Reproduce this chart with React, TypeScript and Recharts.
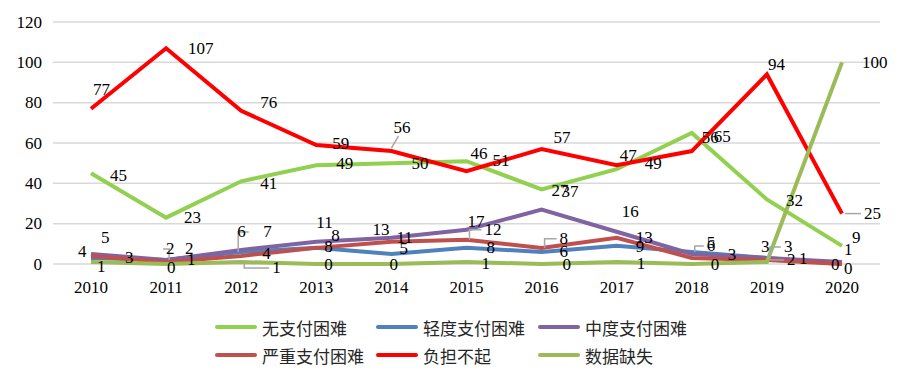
import React from 'react';
import { LineChart, Line, XAxis, YAxis, CartesianGrid, Legend, LabelList } from 'recharts';

const years = ['2010', '2011', '2012', '2013', '2014', '2015', '2016', '2017', '2018', '2019', '2020'];

const noDifficulty = [45, 23, 41, 49, 50, 51, 37, 47, 65, 32, 9];
const mildDifficulty = [3, 2, 6, 8, 5, 8, 6, 9, 6, 3, 0];
const moderateDifficulty = [5, 2, 7, 11, 13, 17, 27, 16, 5, 3, 1];
const severeDifficulty = [4, 1, 4, 8, 11, 12, 8, 13, 3, 2, 0];
const cannotAfford = [77, 107, 76, 59, 56, 46, 57, 49, 56, 94, 25];
const missingData = [1, 0, 1, 0, 0, 1, 0, 1, 0, 1, 100];

const yTicks = [0, 20, 40, 60, 80, 100, 120];

const data = years.map((year, i) => ({
  year,
  noDifficulty: noDifficulty[i],
  mildDifficulty: mildDifficulty[i],
  moderateDifficulty: moderateDifficulty[i],
  severeDifficulty: severeDifficulty[i],
  cannotAfford: cannotAfford[i],
  missingData: missingData[i],
}));

// label offsets [dx, dy, leader] from each point, per year, following the original placement
const series = [
  {
    key: 'noDifficulty', name: '无支付困难', color: '#92D050',
    offsets: [[19, 2], [18, 0], [19, 2], [20, -2], [20, 0], [26, -1], [20, 2], [3, -14], [22, 4], [19, 1], [10, -8]],
  },
  {
    key: 'mildDifficulty', name: '轻度支付困难', color: '#4F81BD',
    offsets: [[34, 0], [0, -11, 1], [-4, -20, 1], [8, -1], [8, -5], [20, 0], [18, 0], [19, 1], [15, -6, 1], [17, -11, 1], [-11, 0]],
  },
  {
    key: 'moderateDifficulty', name: '中度支付困难', color: '#8064A2',
    offsets: [[10, -16], [19, -11], [22, -18], [0, -19], [-19, -8], [1, -8], [10, -19], [5, -20], [15, -11], [-6, -11], [2, -12]],
  },
  {
    key: 'severeDifficulty', name: '严重支付困难', color: '#C0504D',
    offsets: [[-13, -4], [21, -2], [21, -2], [15, -12], [5, -4], [18, -10, 1], [18, -9, 1], [19, 0], [36, -3], [20, 0, 1], [2, 4]],
  },
  {
    key: 'cannotAfford', name: '负担不起', color: '#FF0000',
    offsets: [[2, -19], [22, 0], [19, -8], [16, -2], [2, -24, 2], [4, -18], [12, -12], [28, -2], [10, -14], [1, -10], [22, 0, 1]],
  },
  {
    key: 'missingData', name: '数据缺失', color: '#9BBB59',
    offsets: [[6, 5], [1, 3], [31, 6, 1], [8, 0], [-2, 0], [15, 2], [21, 0], [20, 2], [19, 0], [32, -3], [20, 0]],
  },
];

const numFont = '"Liberation Serif", "Times New Roman", serif';
const cjkFont = '"Noto Sans CJK SC", sans-serif';

const makeLabel = (offsets: number[][]) => (props: any) => {
  const { x, y, value, index } = props;
  const [dx, dy, leader] = offsets[index] || [10, 0, 0];
  const lx = x + dx;
  const ly = y + dy;
  let path = '';
  if (leader === 1) {
    // elbow leader: from the label edge across, then to the point
    const edge = dx >= 0 ? lx - 3 : lx + 3 + String(value).length * 8.5;
    path = `M${edge},${ly} H${x + (dx >= 0 ? 3 : -3)} V${y}`;
  } else if (leader === 2) {
    path = `M${lx + 5},${ly + 9} L${x},${y - 3}`;
  }
  return (
    <g>
      {path && <path d={path} fill="none" stroke="#A6A6A6" strokeWidth={1.5} />}
      <text
        x={lx}
        y={ly}
        dominantBaseline="central"
        textAnchor="start"
        fontFamily={numFont}
        fontSize={17}
        fill="#000"
      >
        {value}
      </text>
    </g>
  );
};

const XTick = (props: any) => {
  const { x, y, payload } = props;
  return (
    <text x={x} y={y} dy="0.71em" textAnchor="middle" fontFamily={numFont} fontSize={17} fill="#000">
      {payload.value}
    </text>
  );
};

const YTick = (props: any) => {
  const { x, y, payload } = props;
  return (
    <text x={x} y={y} dominantBaseline="central" textAnchor="end" fontFamily={numFont} fontSize={17} fill="#000">
      {payload.value}
    </text>
  );
};

const CustomLegend = () => {
  const colX = [215, 376, 538];
  const rowY = [17, 45];
  return (
    <div style={{ position: 'relative', width: 903, height: 60 }}>
      {series.map((s, i) => {
        const left = colX[i % 3];
        const top = rowY[Math.floor(i / 3)];
        return (
          <div
            key={s.key}
            style={{
              position: 'absolute',
              left,
              top: top - 12,
              height: 24,
              display: 'flex',
              alignItems: 'center',
              whiteSpace: 'nowrap',
            }}
          >
            <span
              style={{
                display: 'inline-block',
                width: 42,
                height: 4,
                borderRadius: 2,
                background: s.color,
                marginRight: 5,
              }}
            />
            <span style={{ fontFamily: cjkFont, fontSize: 17, color: '#262626' }}>{s.name}</span>
          </div>
        );
      })}
    </div>
  );
};

export default function App() {
  return (
    <div style={{ position: 'absolute', left: 0, top: 0, width: 903, height: 386, background: '#fff' }}>
      <LineChart
        width={903}
        height={386}
        data={data}
        margin={{ top: 22, right: 23, bottom: 32, left: 0 }}
      >
        <CartesianGrid vertical={false} stroke="#D9D9D9" strokeWidth={1.5} />
        <XAxis
          dataKey="year"
          axisLine={false}
          tickLine={false}
          tickSize={0}
          tickMargin={17}
          height={30}
          padding={{ left: 38, right: 38 }}
          tick={<XTick />}
          interval={0}
        />
        <YAxis
          domain={[0, 120]}
          ticks={yTicks}
          axisLine={false}
          tickLine={false}
          tickSize={0}
          tickMargin={11}
          width={53}
          tick={<YTick />}
        />
        <Legend
          verticalAlign="bottom"
          content={<CustomLegend />}
          wrapperStyle={{ left: 0, top: 310, width: 903, height: 60 }}
        />
        {series.map((s) => (
          <Line
            key={s.key}
            type="linear"
            dataKey={s.key}
            name={s.name}
            stroke={s.color}
            strokeWidth={4}
            dot={false}
            activeDot={false}
            isAnimationActive={false}
          >
            <LabelList dataKey={s.key} content={makeLabel(s.offsets)} />
          </Line>
        ))}
      </LineChart>
    </div>
  );
}
